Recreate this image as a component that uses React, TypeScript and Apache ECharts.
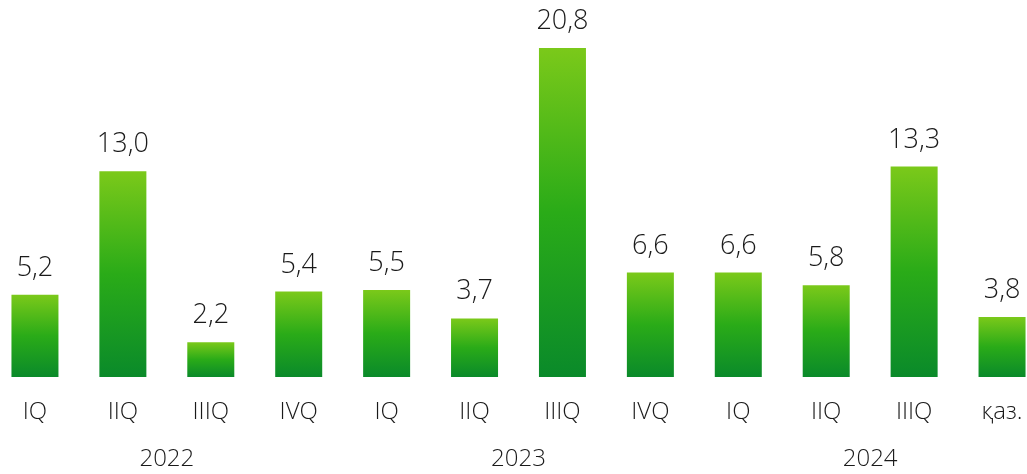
import React, { useEffect, useRef } from "react";
import * as echarts from "echarts";

const quarters = ["IQ", "IIQ", "IIIQ", "IVQ", "IQ", "IIQ", "IIIQ", "IVQ", "IQ", "IIQ", "IIIQ", "қаз."];
const years = ["2022", "2023", "2024"];
const values = [5.2, 13.0, 2.2, 5.4, 5.5, 3.7, 20.8, 6.6, 6.6, 5.8, 13.3, 3.8];

export default function App() {
  const ref = useRef<HTMLDivElement>(null);
  useEffect(() => {
    if (!ref.current) return;
    const chart = echarts.init(ref.current, undefined, { renderer: "svg" });
    const font = "Open Sans";
    chart.setOption({
      animation: false,
      grid: { left: 0, right: 0, top: 29, height: 348, containLabel: false },
      xAxis: [
        {
          type: "category",
          data: quarters,
          axisLine: { show: false },
          axisTick: { show: false },
          axisLabel: { fontFamily: font, fontWeight: 300, fontSize: 24, color: "#1a1a1a", margin: 20 },
        },
        {
          type: "category",
          data: years,
          position: "bottom",
          offset: 67,
          axisLine: { show: false },
          axisTick: { show: false },
          axisLabel: { fontFamily: font, fontWeight: 300, fontSize: 24, color: "#1a1a1a", margin: 0 },
        },
      ],
      yAxis: { type: "value", min: 0, max: 22, show: false },
      series: [
        {
          type: "bar",
          data: values,
          barWidth: 47,
          itemStyle: {
            color: new echarts.graphic.LinearGradient(0, 0, 0, 1, [
              { offset: 0, color: "#7bc91a" },
              { offset: 0.5, color: "#2aab18" },
              { offset: 1, color: "#0a8a2a" },
            ]),
          },
          label: {
            show: true,
            position: "top",
            distance: 16,
            fontFamily: font,
            fontWeight: 300,
            fontSize: 27,
            color: "#1a1a1a",
            formatter: (p: any) => p.value.toFixed(1).replace(".", ","),
          },
        },
      ],
    });
    return () => chart.dispose();
  }, []);
  return (
    <div style={{ position: "fixed", left: 0, top: 0, width: 1027, height: 474, overflow: "hidden" }}>
      <div ref={ref} style={{ position: "absolute", left: -9.5, top: 0, width: 1055, height: 474 }} />
    </div>
  );
}
